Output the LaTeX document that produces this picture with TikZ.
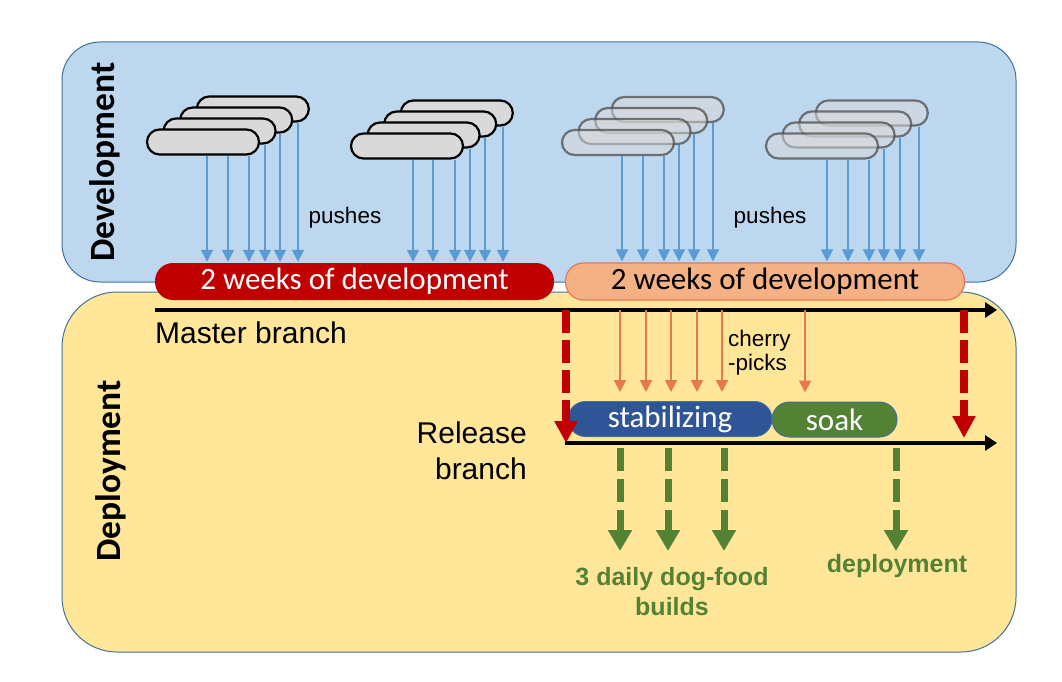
\documentclass[tikz,border=0pt]{standalone}
\usepackage{fontspec}
\setmainfont{Liberation Sans}
\newfontfamily\calfont{Carlito}
\usetikzlibrary{arrows.meta}
\definecolor{devfill}{HTML}{BDD7EE}
\definecolor{boxline}{HTML}{41719C}
\definecolor{depfill}{HTML}{FFE699}
\definecolor{cloudgray}{HTML}{D9D9D9}
\definecolor{pushblue}{HTML}{5B9BD5}
\definecolor{darkred}{HTML}{C00000}
\definecolor{peach}{HTML}{F4B183}
\definecolor{peachline}{HTML}{E9765A}
\definecolor{cherrycol}{HTML}{E8784E}
\definecolor{stabblue}{HTML}{2F5597}
\definecolor{soakgreen}{HTML}{548235}
\tikzset{
  region/.style={draw=boxline, line width=1pt, inner sep=0pt, minimum width=954pt},
  sidelabel/.style={rotate=90, inner sep=0pt, font=\calfont\bfseries\fontsize{35.5}{40}\selectfont},
  cloudS/.style={draw=black, line width=2.2pt, fill=cloudgray, rounded corners=12.5pt,
    minimum width=112pt, minimum height=25pt, inner sep=0pt},
  cloudT/.style={draw=black!70, draw opacity=0.75, line width=2.2pt, fill=cloudgray, fill opacity=0.5,
    rounded corners=12.5pt, minimum width=112pt, minimum height=25pt, inner sep=0pt},
  push/.style={draw=pushblue, line width=1.5pt, -{Triangle[width=12pt,length=12pt]}, shorten >=1pt},
  bar/.style={rounded corners=18pt, minimum height=37pt, inner sep=0pt,
    font=\calfont\fontsize{31}{34}\selectfont},
  phase/.style={rounded corners=17.5pt, minimum height=35pt, inner sep=0pt, draw=boxline, line width=1pt,
    text=white, font=\calfont\fontsize{31}{34}\selectfont},
  branchline/.style={line width=3.5pt, -{Triangle[width=15pt,length=12pt]}},
  mergearrow/.style={draw=darkred, line width=8pt, dash pattern=on 22.5pt off 7.5pt,
    -{Triangle[width=22pt,length=22pt]}},
  cherryarrow/.style={draw=cherrycol, line width=2pt, -{Triangle[width=12pt,length=12pt]}, shorten >=9pt},
  buildarrow/.style={draw=soakgreen, line width=7pt, dash pattern=on 23pt off 8pt,
    -{Triangle[width=23pt,length=21pt]}},
  plainlabel/.style={inner sep=0pt, font=\fontsize{22.5}{24}\selectfont},
  branchlabel/.style={inner sep=0pt, font=\fontsize{30}{36}\selectfont},
  greenlabel/.style={inner sep=0pt, text=soakgreen, font=\bfseries\fontsize{25}{30}\selectfont}
}
\begin{document}
\begin{tikzpicture}[x=1pt,y=-1pt]
\useasboundingbox (0,0) rectangle (1062,682);
% regions
\node[region, fill=devfill, rounded corners=38pt, minimum height=240pt] (dev) at (539,162) {};
\node[region, fill=depfill, rounded corners=55pt, minimum height=360pt] (dep) at (539,472) {};
\node[sidelabel] (devlabel) at (105,162) {Development};
\node[sidelabel] (deplabel) at (111,471) {Deployment};
% cloud stacks
\foreach \s/\cx/\cy/\st in {1/203/142/cloudS, 2/407/146/cloudS, 3/618/142.5/cloudT, 4/822/146/cloudT} {
  \foreach \k in {3,2,1,0} {
    \node[\st] (c\s\k) at ({\cx+16.6*\k},{\cy-11*\k}) {};
  }
}
% bars
\node[bar, fill=darkred, text=white, minimum width=399pt] (bar1) at (354.5,281.5) {2 weeks of development};
\node[bar, fill=peach, draw=peachline, line width=1.2pt, minimum width=399pt] (bar2) at (765,281.5) {2 weeks of development};
% pushes
\foreach \s/\x/\k/\b in {1/207/0/1, 1/228/0/1, 1/249/0/1, 1/265/1/1, 1/280/2/1, 1/298/3/1,
  2/413/0/1, 2/433/0/1, 2/455/0/1, 2/470/1/1, 2/485/2/1, 2/503/3/1,
  3/622/0/2, 3/643/0/2, 3/664/0/2, 3/679/1/2, 3/694/2/2, 3/713/3/2,
  4/827/0/2, 4/848/0/2, 4/869/0/2, 4/884/1/2, 4/900/2/2, 4/919/3/2} {
  \draw[push] (\x,0 |- c\s\k.south) -- (\x,0 |- bar\b.north);
}
\node[plainlabel] (push1) at (345,218) {pushes};
\node[plainlabel] (push2) at (770,218) {pushes};
% branches
\coordinate (mA) at (155,310);
\coordinate (mB) at (997,310);
\coordinate (rA) at (565,443);
\coordinate (rB) at (997,443);
\draw[branchline] (mA) -- (mB);
\draw[branchline] (rA) -- (rB);
\node[branchlabel, anchor=west] (master) at (155,333) {Master branch};
\node[branchlabel, anchor=east, align=right] (release) at (527,451) {Release\\branch};
% phases
\node[phase, fill=stabblue, minimum width=204pt] (stab) at (670,419) {stabilizing};
\node[phase, fill=soakgreen, minimum width=125pt] (soak) at (834.5,419.5) {soak};
% cherry-picks
\foreach \x in {620,646,671,697,722} {
  \draw[cherryarrow] (\x,0 |- mA) -- (\x,0 |- stab.north);
}
\draw[cherryarrow] (805,0 |- mA) -- (805,0 |- soak.north);
\node[inner sep=0pt, anchor=west, align=left, font=\fontsize{22.5}{24}\selectfont] (cherry) at (728,353) {cherry\\-picks};
% merges
\draw[mergearrow] (566,0 |- mA) -- (566,0 |- rA);
\draw[mergearrow, shorten >=5pt] (964,0 |- mB) -- (964,0 |- rB);
% builds
\coordinate (gS) at (0,448);
\coordinate (gE) at (0,551);
\foreach \x in {620,668,724,896} {
  \draw[buildarrow] (\x,0 |- gS) -- (\x,0 |- gE);
}
\node[greenlabel, align=center] (builds) at (672,592) {3 daily dog-food\\builds};
\node[greenlabel] (deploy) at (897,566) {deployment};
\end{tikzpicture}
\end{document}
